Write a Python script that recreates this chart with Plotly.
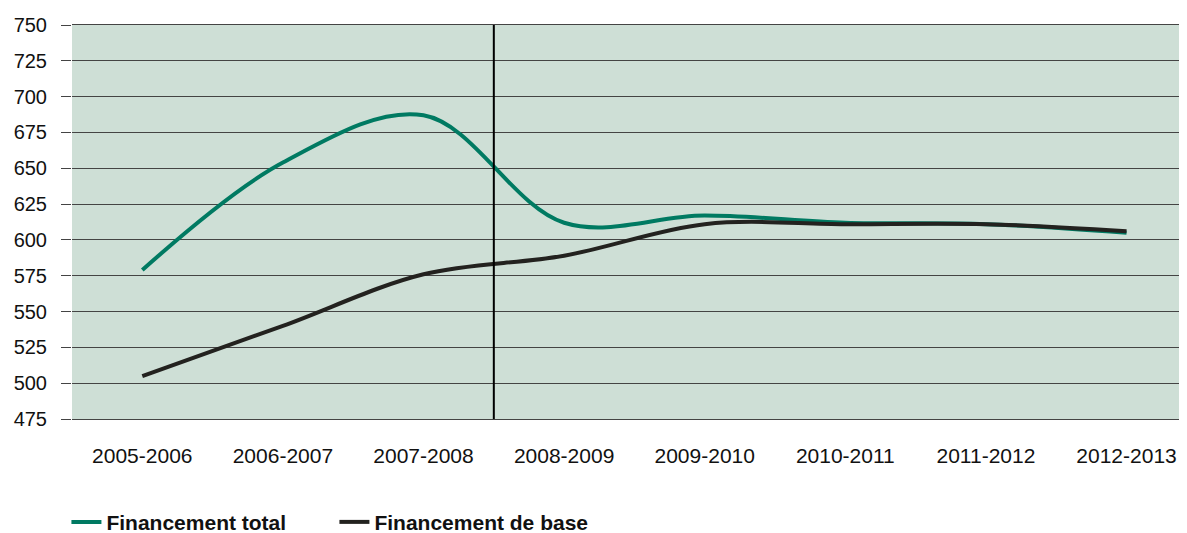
import plotly.graph_objects as go

years = ["2005-2006", "2006-2007", "2007-2008", "2008-2009", "2009-2010",
         "2010-2011", "2011-2012", "2012-2013"]
financement_total = [579, 654, 687, 612, 617, 612, 611, 605]
financement_base = [505, 540, 576, 589, 611, 611, 611, 606]
y_ticks = [475, 500, 525, 550, 575, 600, 625, 650, 675, 700, 725, 750]

GREEN = "#007a62"
BLACK = "#23221f"
GRID = "#444444"
BG = "#cedfd6"
FONT = "Liberation Sans, Arial, sans-serif"

fig = go.Figure()
fig.add_trace(go.Scatter(
    x=years, y=financement_total, name="Financement total", mode="lines",
    line=dict(color=GREEN, width=4, shape="spline", smoothing=1),
))
fig.add_trace(go.Scatter(
    x=years, y=financement_base, name="Financement de base", mode="lines",
    line=dict(color=BLACK, width=4, shape="spline", smoothing=1),
))

fig.add_shape(type="line", xref="x", yref="paper", x0=2.5, x1=2.5, y0=0, y1=1,
              line=dict(color="#000000", width=2), layer="above")

fig.update_layout(
    width=1179, height=525,
    margin=dict(l=64, r=0, t=17, b=114, autoexpand=False),
    paper_bgcolor="white", plot_bgcolor=BG,
    font=dict(family=FONT, size=20, color="#111111"),
    showlegend=True,
    legend=dict(orientation="h", x=-0.005, xanchor="left", y=-0.21, yanchor="top",
                font=dict(family=FONT, size=21, color="#111111", weight="bold"),
                entrywidth=223, bgcolor="rgba(0,0,0,0)"),
    xaxis=dict(
        type="category", range=[-0.5, 7.43], showgrid=False,
        showline=True, linecolor=GRID, linewidth=1.2, mirror=True,
        ticks="", ticklabelstandoff=18,
        tickfont=dict(family=FONT, size=21, color="#111111"),
    ),
    yaxis=dict(
        range=[475, 750], tickvals=y_ticks, showgrid=True, gridcolor=GRID, gridwidth=1.2,
        zeroline=False, showline=False,
        ticks="outside", ticklen=10, tickcolor=GRID, tickwidth=1.2,
        ticklabelstandoff=10,
        tickfont=dict(family=FONT, size=20, color="#111111"),
    ),
)

fig.write_html("out.html")
